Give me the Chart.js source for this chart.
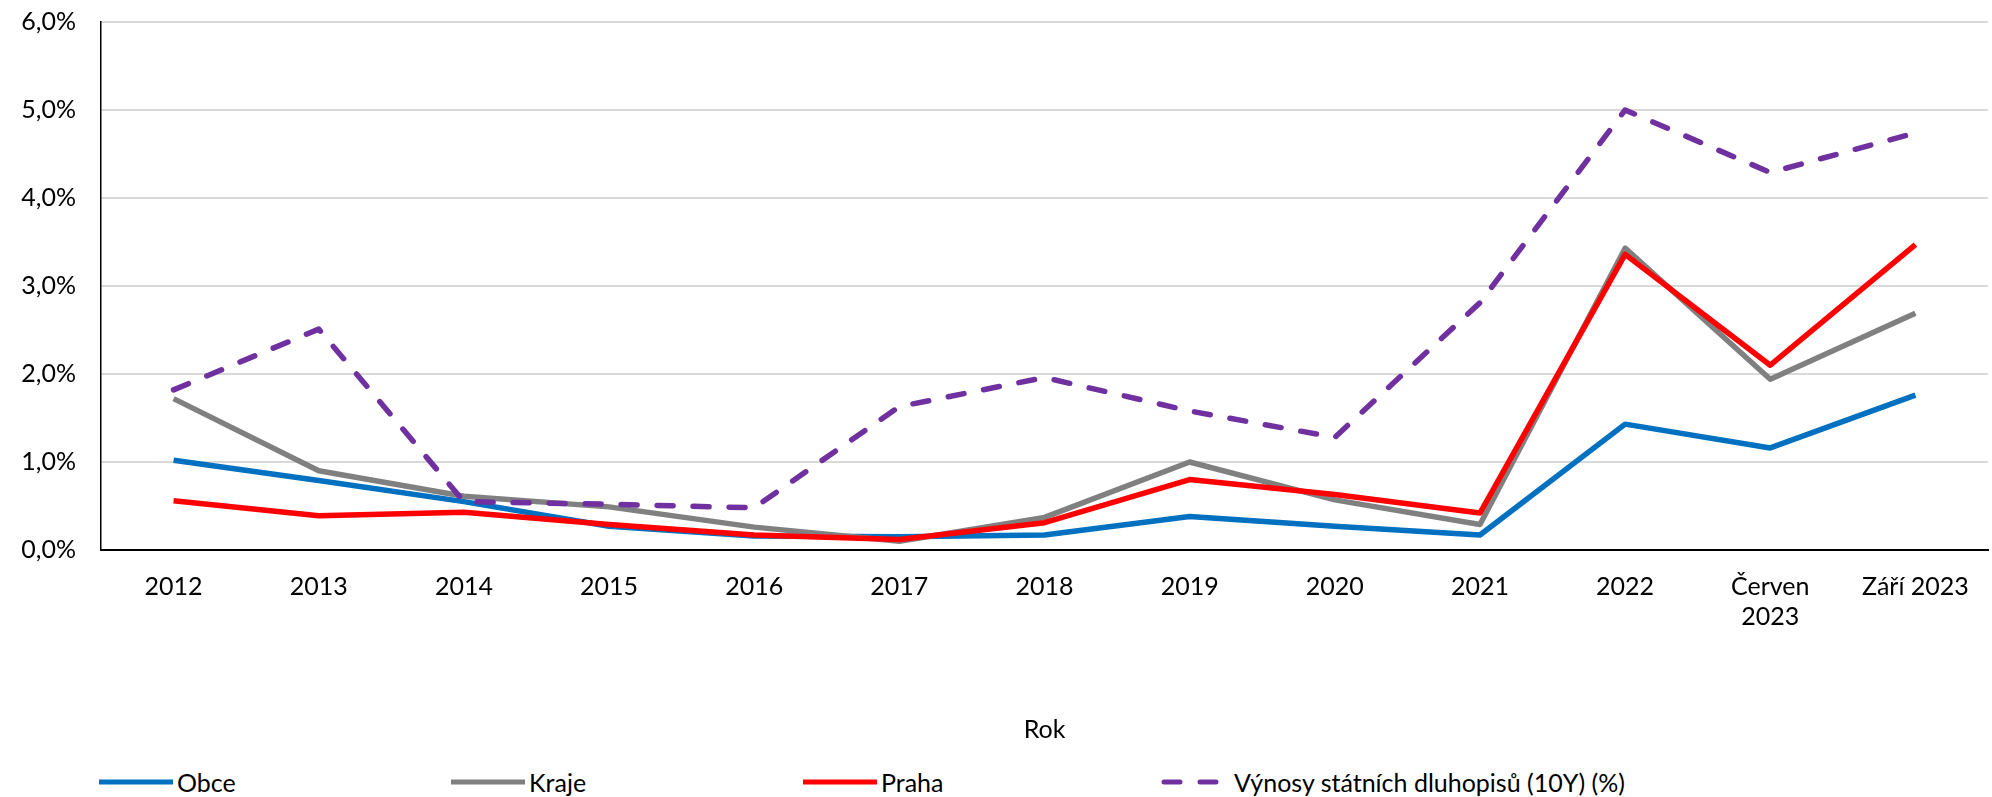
<!DOCTYPE html>
<html>
<head>
<meta charset="utf-8">
<script src="https://cdn.jsdelivr.net/npm/chart.js@4"></script>
<style>
  body { margin: 0; background: #fff; font-family: Lato, sans-serif; overflow: hidden; }
  #wrap { position: relative; width: 1992px; height: 797px; overflow: hidden; }
  #box { position: absolute; left: 0; top: -18px; width: 1992px; height: 768px; }
  #legend { position: absolute; left: 0; top: 765px; width: 1992px; height: 34px; }
  .item { position: absolute; top: 0; height: 34px; display: flex; align-items: center; font-size: 25px; color: #000; }
  .item canvas { margin-right: 4px; }
</style>
</head>
<body>
<div id="wrap">
  <div id="box"><canvas id="myChart"></canvas></div>
  <div id="legend"></div>
</div>
<script>
'use strict';

// DATA
var categories = ['2012', '2013', '2014', '2015', '2016', '2017', '2018', '2019', '2020', '2021', '2022', ['Červen', '2023'], 'Září 2023'];
var obce = [1.02, 0.79, 0.55, 0.27, 0.16, 0.15, 0.17, 0.38, 0.27, 0.17, 1.43, 1.16, 1.76];
var kraje = [1.72, 0.90, 0.61, 0.49, 0.26, 0.10, 0.37, 1.00, 0.57, 0.29, 3.43, 1.94, 2.69];
var praha = [0.56, 0.39, 0.43, 0.29, 0.17, 0.12, 0.31, 0.80, 0.63, 0.42, 3.36, 2.10, 3.47];
var vynosy = [1.82, 2.51, 0.55, 0.52, 0.48, 1.63, 1.96, 1.58, 1.28, 2.81, 5.00, 4.29, 4.74];
var yTicks = [0, 1, 2, 3, 4, 5, 6];

var seriesNames = ['Obce', 'Kraje', 'Praha', 'Výnosy státních dluhopisů (10Y) (%)'];
var seriesColors = ['#0070C0', '#808080', '#FF0000', '#7030A0'];
var dashes = [[], [], [], [16, 20]];
var legendLeft = [99, 451, 803, 1156];

function makeSet(i, values) {
  return {
    label: seriesNames[i],
    data: values,
    borderColor: seriesColors[i],
    backgroundColor: seriesColors[i],
    borderWidth: 5.5,
    borderDash: dashes[i],
    borderCapStyle: dashes[i].length ? 'round' : 'butt',
    borderJoinStyle: 'round',
    pointRadius: 0,
    tension: 0,
    order: 4 - i
  };
}

Chart.defaults.font.family = 'Lato, sans-serif';
Chart.defaults.color = '#000';

var ctx = document.getElementById('myChart');
var myChart = new Chart(ctx, {
  type: 'line',
  data: {
    labels: categories,
    datasets: [makeSet(0, obce), makeSet(1, kraje), makeSet(2, praha), makeSet(3, vynosy)]
  },
  options: {
    responsive: true,
    maintainAspectRatio: false,
    animation: false,
    layout: { padding: { top: 3, right: 4, left: 0, bottom: 0 } },
    plugins: { legend: { display: false }, tooltip: { enabled: false } },
    scales: {
      x: {
        offset: true,
        grid: { display: false, drawTicks: false },
        border: { display: true, color: '#000', width: 2 },
        ticks: { font: { size: 25 }, padding: 22, maxRotation: 0, autoSkip: false },
        title: { display: true, text: 'Rok', font: { size: 25 }, padding: { top: 0, bottom: 5 } },
        afterFit: function (scale) { scale.height = 200; }
      },
      y: {
        min: 0,
        max: 6,
        afterBuildTicks: function (scale) {
          scale.ticks = yTicks.map(function (v) { return { value: v }; });
        },
        grid: { color: '#d9d9d9', lineWidth: 2, drawTicks: false },
        border: { display: true, color: '#000', width: 1.5 },
        ticks: {
          font: { size: 25 },
          padding: 25,
          callback: function (v) { return v.toFixed(1).replace('.', ',') + '%'; }
        },
        afterFit: function (scale) { scale.width = 101; }
      }
    }
  }
});

// LEGEND
var legend = document.getElementById('legend');
for (var i = 0; i < seriesNames.length; i++) {
  var item = document.createElement('div');
  item.className = 'item';
  item.style.left = legendLeft[i] + 'px';
  var sw = document.createElement('canvas');
  sw.width = 74;
  sw.height = 12;
  var g = sw.getContext('2d');
  g.strokeStyle = seriesColors[i];
  g.lineWidth = 5;
  if (dashes[i].length) {
    g.lineCap = 'round';
    g.setLineDash([16, 20]);
    g.beginPath();
    g.moveTo(8, 6);
    g.lineTo(72, 6);
    g.stroke();
  } else {
    g.beginPath();
    g.moveTo(0, 6);
    g.lineTo(74, 6);
    g.stroke();
  }
  item.appendChild(sw);
  var t = document.createElement('span');
  t.textContent = seriesNames[i];
  item.appendChild(t);
  legend.appendChild(item);
}
</script>
</body>
</html>
